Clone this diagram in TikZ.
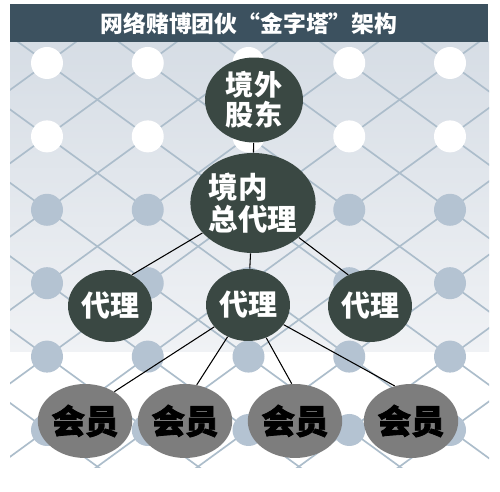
\documentclass[tikz,border=0pt]{standalone}
\usepackage{fontspec}
\newfontfamily\cjk{Noto Sans CJK SC}
\newfontfamily\cjkheavy[BoldFeatures={FakeBold=2.5}]{Noto Sans CJK SC}
\usepackage{tikz}
\usetikzlibrary{shapes,positioning}

\definecolor{barblue}{RGB}{60,81,95}
\definecolor{topgray}{RGB}{214,221,229}
\definecolor{lowgray}{RGB}{240,242,245}
\definecolor{netline}{RGB}{172,189,203}
\definecolor{netdot}{RGB}{180,195,210}
\definecolor{darknode}{RGB}{58,72,67}
\definecolor{graynode}{RGB}{125,125,125}

\tikzset{
  boss/.style={ellipse, fill=darknode, text=white, inner sep=0pt},
  agent/.style={boss, minimum width=1.68cm, minimum height=1.44cm,
    font=\cjk\bfseries\fontsize{16.5}{18}\selectfont},
  member/.style={ellipse, fill=graynode, text=black, inner sep=0pt,
    minimum width=1.68cm, minimum height=1.48cm,
    font=\cjkheavy\bfseries\fontsize{19}{20}\selectfont},
  link/.style={black, line width=0.6pt}
}

\begin{document}
\begin{tikzpicture}[x=0.02cm, y=-0.02cm]
    \useasboundingbox (0,0) rectangle (500,492);
    \fill[white] (0,0) rectangle (500,492);

    % upper panel
    \shade[top color=topgray, bottom color=lowgray] (10,42) rectangle (489,352);

    % lattice of lines and dots
    \begin{scope}
        \clip (10,42) rectangle (489,468);
        \foreach \i in {-8,...,12} {
            \draw[netline, line width=0.95pt] (47+100.75*\i,63) ++(-806,-587) -- ++(1612,1174);
            \draw[netline, line width=0.95pt] (47+100.75*\i,63) ++(-806,587) -- ++(1612,-1174);
        }
    \end{scope}
    \foreach \c in {0,...,4} {
        \foreach \r in {0,1}
            \fill[white] (47+100.75*\c,63+73.4*\r) circle (16);
        \foreach \r in {2,...,5}
            \fill[netdot] (47+100.75*\c,63+73.4*\r) circle (16);
    }

    % title bar
    \fill[barblue] (10,4) rectangle (488,42);
    \node[text=white, font=\cjk\bfseries\fontsize{13}{14}\selectfont] (title) at (249,24) {网络赌博团伙“金字塔”架构};

    % top of the pyramid
    \node[boss, minimum width=1.96cm, minimum height=1.7cm, align=center,
        font=\cjk\bfseries\fontsize{16}{17}\selectfont] (owner) at (254,100) {境外\\股东};
    \node[boss, minimum width=2.2cm, minimum height=2cm, align=left,
        font=\cjk\bfseries\fontsize{16.8}{18.2}\selectfont] (general) at (253,203) {境内\\总代理};

    % agents
    \node[agent] (agentL) at (110,306) {代理};
    \node[agent] (agentM) at (248,305) {代理};
    \node[agent] (agentR) at (370,306) {代理};

    % members
    \node[member] (memberA) at (85,421) {会员};
    \node[member] (memberB) at (185,421) {会员};
    \node[member] (memberC) at (295,421) {会员};
    \node[member] (memberD) at (411,421) {会员};

    % links
    \draw[link] (owner) -- (general);
    \draw[link] (general) -- (agentL.55);
    \draw[link] (general) -- (agentM);
    \draw[link] (general) -- (agentR.125);
    \draw[link] (agentM) -- (memberA.45);
    \draw[link] (agentM) -- (memberB.72);
    \draw[link] (agentM) -- (memberC.95);
    \draw[link] (agentM) -- (memberD.115);
\end{tikzpicture}
\end{document}
